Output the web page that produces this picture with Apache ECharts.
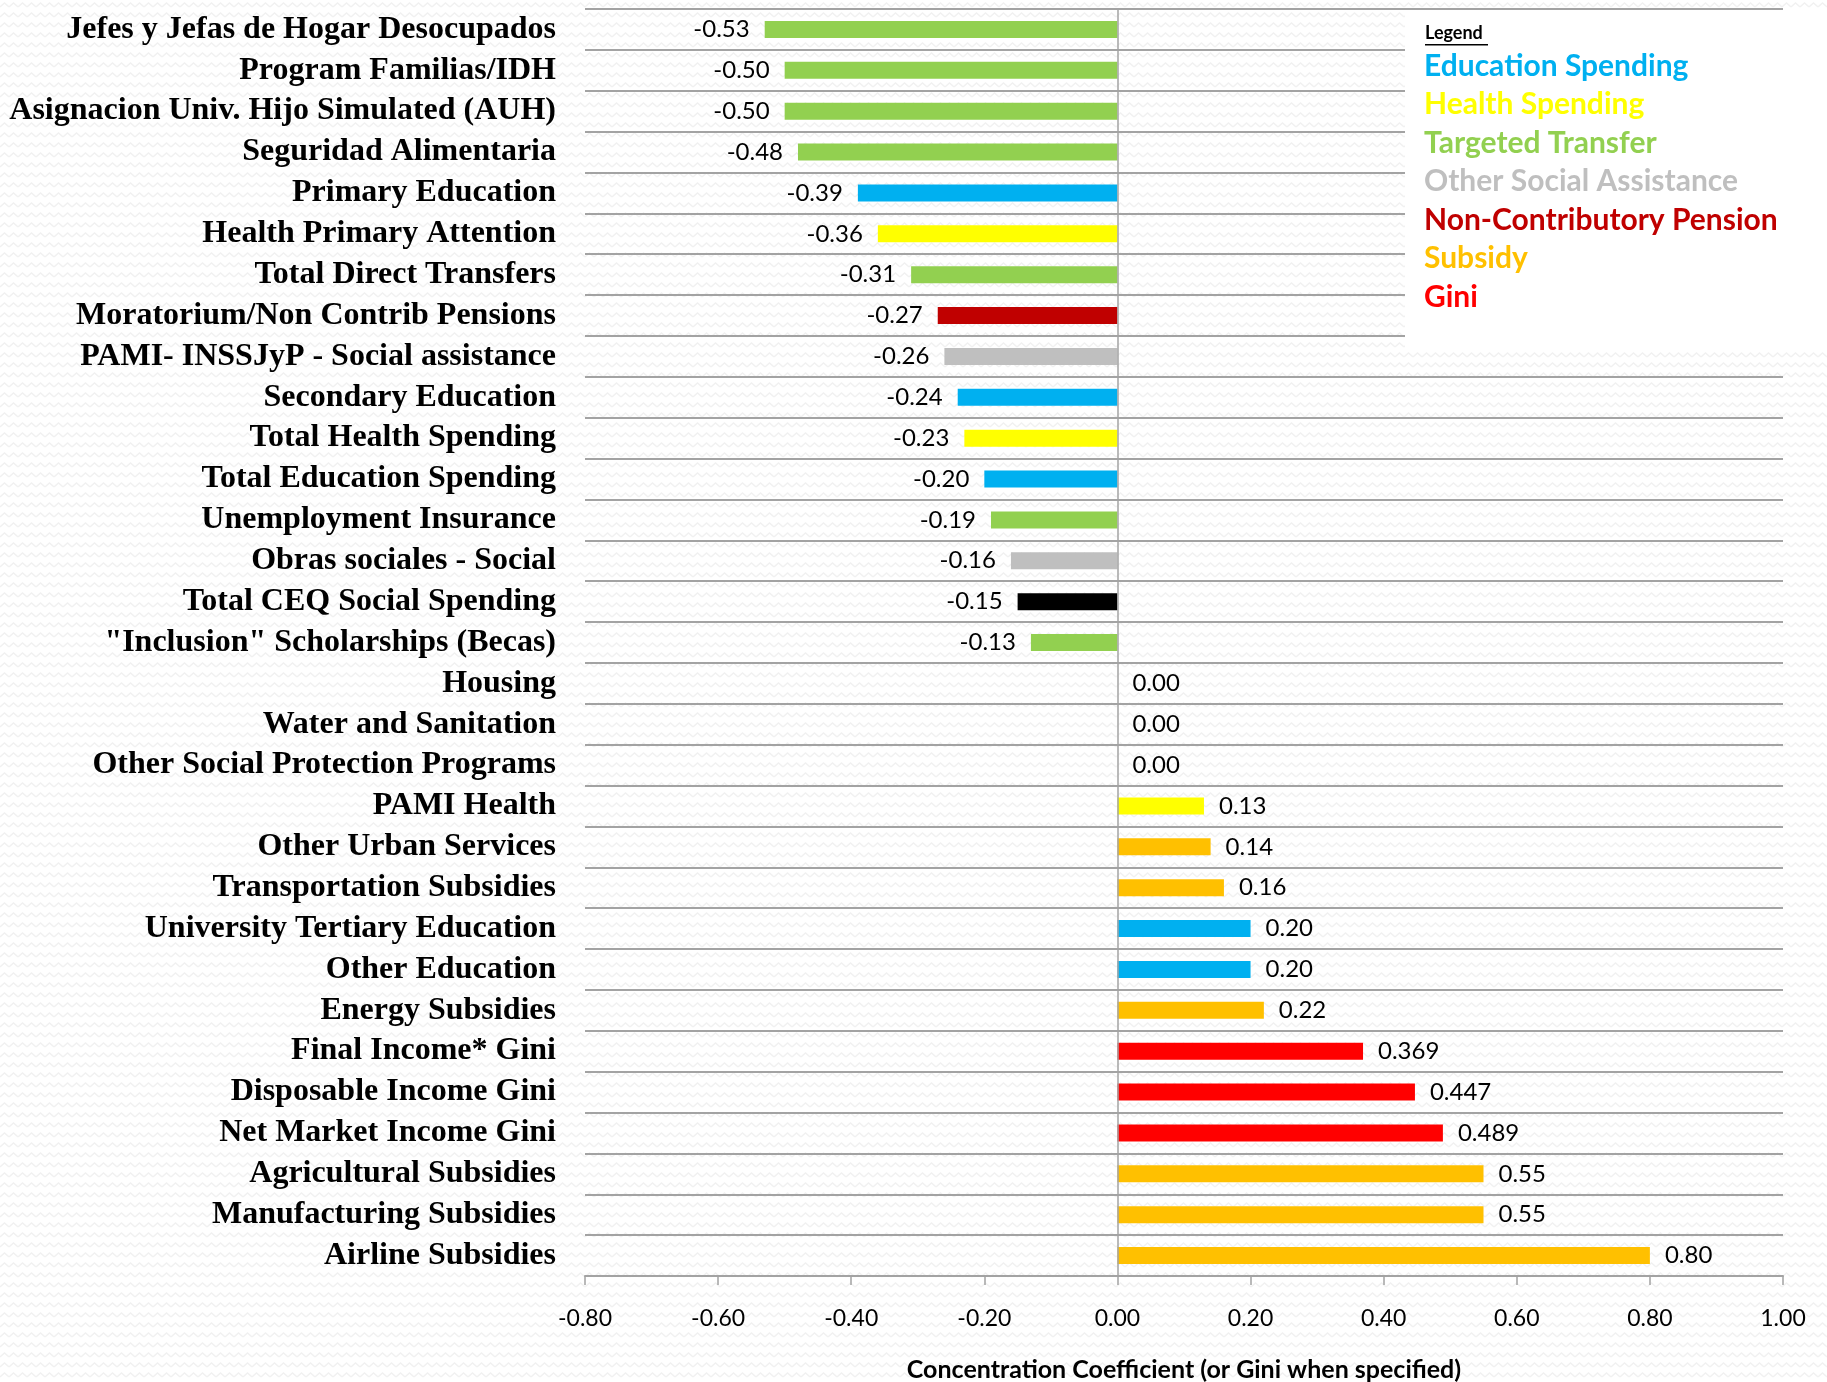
<!DOCTYPE html>
<html>
<head>
<meta charset="utf-8">
<title>Concentration Coefficients</title>
<script src="https://cdn.jsdelivr.net/npm/echarts@6/dist/echarts.min.js"></script>
<style>
  html, body { margin: 0; padding: 0; background: #ffffff; }
  #chart { width: 1827px; height: 1382px; }
</style>
</head>
<body>
<div id="chart"></div>
<script>
// Programs, listed top to bottom
const categories = [
  'Jefes y Jefas de Hogar Desocupados',
  'Program Familias/IDH',
  'Asignacion Univ. Hijo Simulated (AUH)',
  'Seguridad Alimentaria',
  'Primary Education',
  'Health Primary Attention',
  'Total Direct Transfers',
  'Moratorium/Non Contrib Pensions',
  'PAMI- INSSJyP - Social assistance',
  'Secondary Education',
  'Total Health Spending',
  'Total Education Spending',
  'Unemployment Insurance',
  'Obras sociales - Social',
  'Total CEQ Social Spending',
  '"Inclusion" Scholarships (Becas)',
  'Housing',
  'Water and Sanitation',
  'Other Social Protection Programs',
  'PAMI Health',
  'Other Urban Services',
  'Transportation Subsidies',
  'University Tertiary Education',
  'Other Education',
  'Energy Subsidies',
  'Final Income* Gini',
  'Disposable Income Gini',
  'Net Market Income Gini',
  'Agricultural Subsidies',
  'Manufacturing Subsidies',
  'Airline Subsidies'
];

// Concentration coefficient (or Gini) for each program
const values = [
  -0.53, -0.50, -0.50, -0.48, -0.39, -0.36, -0.31, -0.27, -0.26, -0.24,
  -0.23, -0.20, -0.19, -0.16, -0.15, -0.13, 0.00, 0.00, 0.00, 0.13,
  0.14, 0.16, 0.20, 0.20, 0.22, 0.369, 0.447, 0.489, 0.55, 0.55, 0.80
];

// Spending type of each program
const groups = [
  'targeted', 'targeted', 'targeted', 'targeted', 'education', 'health', 'targeted',
  'pension', 'other', 'education', 'health', 'education', 'targeted', 'other',
  'total', 'targeted', 'none', 'none', 'none', 'health', 'subsidy', 'subsidy',
  'education', 'education', 'subsidy', 'gini', 'gini', 'gini', 'subsidy',
  'subsidy', 'subsidy'
];

// Legend entries
const legendKeys = ['education', 'health', 'targeted', 'other', 'pension', 'subsidy', 'gini'];
const legendLabels = [
  'Education Spending', 'Health Spending', 'Targeted Transfer',
  'Other Social Assistance', 'Non-Contributory Pension', 'Subsidy', 'Gini'
];

// X axis range
const xMin = -0.8, xMax = 1.0, xStep = 0.2;

const palette = {
  education: '#00B0F0',
  health: '#FFFF00',
  targeted: '#92D050',
  other: '#BFBFBF',
  pension: '#C00000',
  subsidy: '#FFC000',
  gini: '#FF0000',
  total: '#000000',
  none: '#000000'
};
const lineGrey = '#a3a3a3';
const numFont = 'Lato, "Open Sans", sans-serif';

// Faint zigzag paper texture behind the chart
(function () {
  const c = document.createElement('canvas');
  c.width = 9; c.height = 10;
  const g = c.getContext('2d');
  g.fillStyle = '#ffffff';
  g.fillRect(0, 0, 9, 10);
  g.strokeStyle = '#f1f1f1';
  g.lineWidth = 1.4;
  g.beginPath();
  g.moveTo(0, 7); g.lineTo(4.5, 3); g.lineTo(9, 7);
  g.stroke();
  document.body.style.backgroundImage = 'url(' + c.toDataURL() + ')';
})();

const barData = values.map((v, i) => ({
  value: v,
  itemStyle: { color: palette[groups[i]] },
  label: { position: v < 0 ? 'left' : 'right' }
}));

const legendGraphics = [
  {
    type: 'rect', left: 1405, top: 12, z: 100,
    shape: { width: 422, height: 338 },
    style: { fill: '#ffffff' }
  },
  {
    type: 'text', left: 1425, top: 24, z: 101,
    style: { text: 'Legend', fill: '#000', font: 'bold 18px ' + numFont }
  },
  {
    type: 'rect', left: 1425, top: 44, z: 101,
    shape: { width: 63, height: 1.5 },
    style: { fill: '#000' }
  }
].concat(legendKeys.map((k, i) => ({
  type: 'text', left: 1424, top: 51 + i * 38.5, z: 101,
  style: { text: legendLabels[i], fill: palette[k], font: 'bold 30px ' + numFont }
})));

const chart = echarts.init(document.getElementById('chart'), null, { renderer: 'canvas' });
chart.setOption({
  backgroundColor: 'transparent',
  animation: false,
  grid: {
    left: 585, right: 44, top: 9, bottom: 106,
    containLabel: false, outerBoundsMode: 'none'
  },
  xAxis: {
    type: 'value',
    min: xMin, max: xMax, interval: xStep,
    axisLine: { show: true, lineStyle: { color: lineGrey, width: 2 } },
    axisTick: { show: true, length: 9, lineStyle: { color: lineGrey, width: 1.5 } },
    splitLine: { show: false },
    axisLabel: {
      margin: 31, color: '#000', fontFamily: numFont, fontSize: 23,
      formatter: v => v.toFixed(2)
    },
    name: 'Concentration Coefficient (or Gini when specified)',
    nameLocation: 'middle', nameGap: 81,
    nameTextStyle: { color: '#000', fontFamily: numFont, fontWeight: 'bold', fontSize: 25 }
  },
  yAxis: {
    type: 'category',
    inverse: true,
    data: categories,
    axisLine: { show: false },
    axisTick: { show: false },
    splitLine: { show: true, interval: 0, lineStyle: { color: lineGrey, width: 2 } },
    axisLabel: {
      interval: 0, hideOverlap: false,
      margin: 29, color: '#000',
      fontFamily: '"Liberation Serif", "DejaVu Serif", serif',
      fontWeight: 'bold', fontSize: 32
    }
  },
  series: [{
    type: 'bar',
    barWidth: 17,
    data: barData,
    label: {
      show: true, distance: 15, color: '#000',
      fontFamily: numFont, fontSize: 24,
      formatter: p => groups[p.dataIndex] === 'gini' ? p.value.toFixed(3) : p.value.toFixed(2)
    },
    markLine: {
      silent: true, symbol: 'none', label: { show: false },
      lineStyle: { color: lineGrey, width: 1.5, type: 'solid' },
      data: [{ xAxis: 0 }]
    }
  }],
  graphic: legendGraphics
});
</script>
</body>
</html>
